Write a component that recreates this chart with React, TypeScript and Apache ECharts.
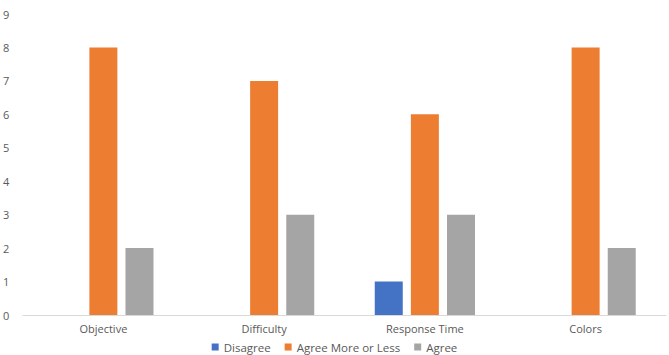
import React, { useEffect, useRef } from "react";
import * as echarts from "echarts";

const categories = ["Objective", "Difficulty", "Response Time", "Colors"];
const disagree = [0, 0, 1, 0];
const agreeMoreOrLess = [8, 7, 6, 8];
const agree = [2, 3, 3, 2];
const seriesNames = ["Disagree", "Agree More or Less", "Agree"];

export default function App() {
  const ref = useRef<HTMLDivElement>(null);
  useEffect(() => {
    const chart = echarts.init(ref.current!, null, { renderer: "svg" });
    const font = { color: "#595959", fontSize: 11, fontFamily: "Open Sans" };
    const mk = (name: string, data: number[], color: string) => ({
      name,
      type: "bar",
      data: data.map((v) => (v === 0 ? null : v)),
      barWidth: 28,
      barGap: "29%",
      itemStyle: { color },
    });
    chart.setOption({
      animation: false,
      grid: { left: 20, right: 3, top: 14, bottom: 40 },
      xAxis: {
        type: "category",
        data: categories,
        axisLine: { lineStyle: { color: "#D9D9D9" } },
        axisTick: { show: false },
        axisLabel: { ...font, margin: 8 },
      },
      yAxis: {
        type: "value",
        min: 0,
        max: 9,
        interval: 1,
        splitLine: { show: false },
        axisLine: { show: false },
        axisTick: { show: false },
        axisLabel: { ...font, margin: 10, align: "left", padding: [0, 0, 0, -10] },
      },
      legend: {
        top: 336,
        padding: [5, 5, 0, 5],
        left: "center",
        icon: "rect",
        itemWidth: 7,
        itemHeight: 7,
        itemGap: 14,
        textStyle: { ...font, fontSize: 11.5 },
        data: seriesNames,
      },
      series: [
        mk(seriesNames[0], disagree, "#4472C4"),
        mk(seriesNames[1], agreeMoreOrLess, "#ED7D31"),
        mk(seriesNames[2], agree, "#A5A5A5"),
      ],
    });
    return () => chart.dispose();
  }, []);
  return <div ref={ref} style={{ width: 669, height: 355, position: "absolute", left: 0, top: 0 }} />;
}
